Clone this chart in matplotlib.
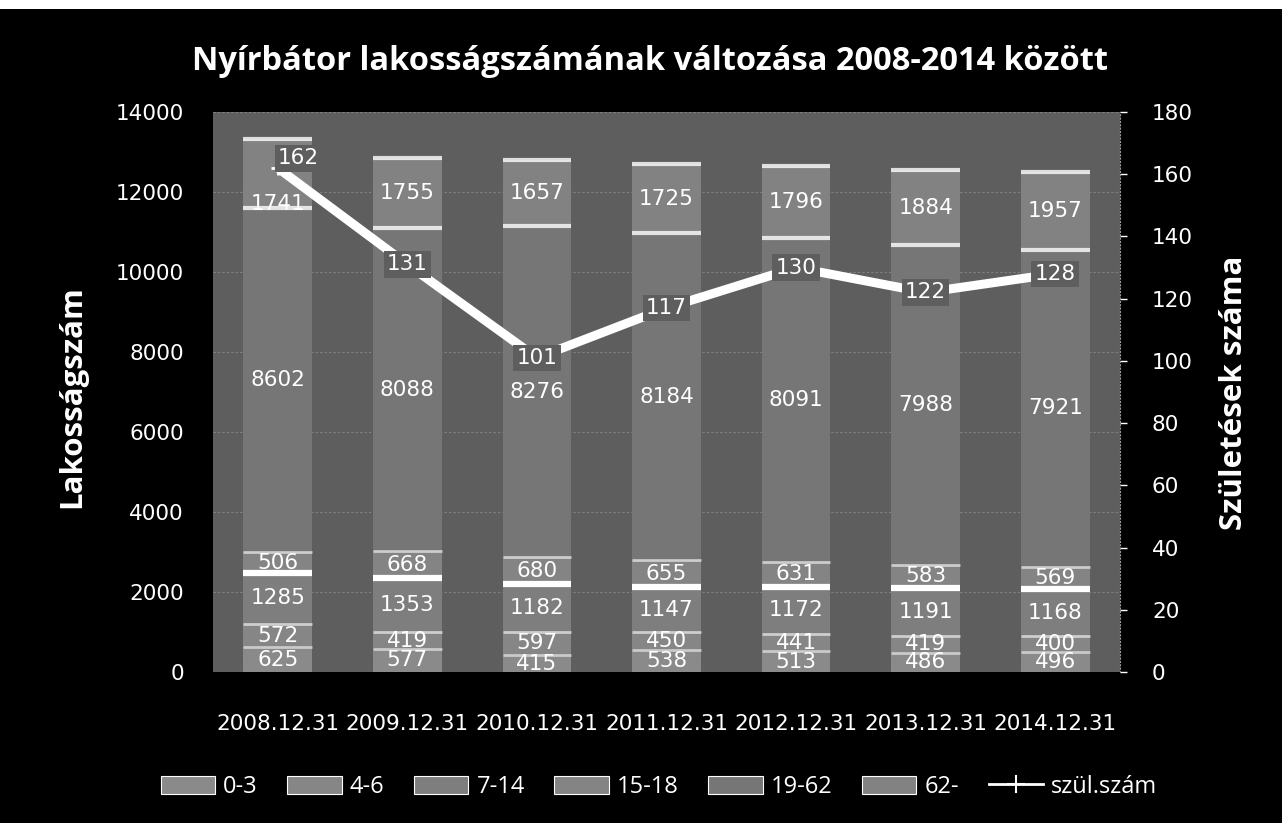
import matplotlib
matplotlib.use("Agg")
import matplotlib.pyplot as plt
from matplotlib.patches import Patch, Rectangle
from matplotlib.lines import Line2D
import numpy as np

# ---- data ----
categories = ["2008.12.31", "2009.12.31", "2010.12.31", "2011.12.31",
              "2012.12.31", "2013.12.31", "2014.12.31"]
age_0_3 = [625, 577, 415, 538, 513, 486, 496]
age_4_6 = [572, 419, 597, 450, 441, 419, 400]
age_7_14 = [1285, 1353, 1182, 1147, 1172, 1191, 1168]
age_15_18 = [506, 668, 680, 655, 631, 583, 569]
age_19_62 = [8602, 8088, 8276, 8184, 8091, 7988, 7921]
age_62 = [1741, 1755, 1657, 1725, 1796, 1884, 1957]
births = [162, 131, 101, 117, 130, 122, 128]
series_names = ["0-3", "4-6", "7-14", "15-18", "19-62", "62-"]
line_name = "szül.szám"
title = "Nyírbátor lakosságszámának változása 2008-2014 között"
left_label = "Lakosságszám"
right_label = "Születések száma"

# ---- style ----
BG = "#000000"
PLOT_BG = "#5e5e5e"
seg_colors = ["#8a8a8a", "#868686", "#7e7e7e", "#848484", "#767676", "#828282"]
top_lw = [2.0, 2.0, 4.5, 2.0, 3.0, 3.0]
top_alpha = [0.55, 0.6, 1.0, 0.6, 0.8, 0.8]
NUM_FONT = ["DejaVu Sans"]
TXT_FONT = ["Open Sans", "DejaVu Sans"]
# label nudges in points (first bar: birth label up/right, top segment label down)
birth_label_offsets = [(15, 7), (0, 0), (0, 0), (0, 0), (0, 0), (0, 0), (0, 0)]
top_label_offsets = [(0, -22), (0, 0), (0, 0), (0, 0), (0, 0), (0, 0), (0, 0)]

fig = plt.figure(figsize=(12.82, 8.23), dpi=100, facecolor=BG)
ax = fig.add_axes([213/1282, 1-672/823, (1120-213)/1282, (672-112)/823])
ax.set_facecolor(PLOT_BG)
ax2 = ax.twinx()

x = np.arange(len(categories))
w = 0.53
series = [age_0_3, age_4_6, age_7_14, age_15_18, age_19_62, age_62]
bottom = np.zeros(len(categories))
handles = []
n_series = len(series)
for si, (vals, name, col, lw, al) in enumerate(zip(series, series_names, seg_colors, top_lw, top_alpha)):
    vals = np.array(vals, dtype=float)
    ax.bar(x, vals, w, bottom=bottom, color=col, edgecolor="none", zorder=2)
    tops = bottom + vals
    ax.hlines(tops, x - w/2, x + w/2, colors="white", lw=lw, alpha=al, zorder=3)
    for j, (xi, b, v) in enumerate(zip(x, bottom, vals)):
        off = top_label_offsets[j] if si == n_series - 1 else (0, 0)
        ax.annotate(f"{int(v)}", (xi, b + v/2), xytext=off, textcoords="offset points",
                    ha="center", va="center", color="white", fontsize=15.5,
                    family=NUM_FONT, zorder=4)
    handles.append(Patch(facecolor=col, edgecolor="white", linewidth=0.8, label=name))
    bottom = tops

ax.set_xlim(-0.5, len(categories) - 0.5)
ax.set_ylim(0, 14000)
ax.set_yticks(np.arange(0, 14001, 2000))
ax.yaxis.grid(True, color="#9a9a9a", lw=0.8, ls=(0, (2, 2)), alpha=0.6, zorder=0)
ax.set_axisbelow(True)
ax.set_xticks(x)
ax.set_xticklabels(categories)
ax.tick_params(axis="x", length=0, pad=30, colors="white", labelsize=15.5)
ax.tick_params(axis="y", length=0, pad=21, colors="white", labelsize=15.5)
for lab in ax.get_xticklabels() + ax.get_yticklabels():
    lab.set_family(NUM_FONT)
for s in ax.spines.values():
    s.set_visible(False)

# births line
ax2.plot(x, births, color="white", lw=6.5, marker="+", ms=10, mew=2,
         solid_capstyle="butt", zorder=5)
for xi, b, off in zip(x, births, birth_label_offsets):
    ax2.annotate(f"{b}", (xi, b), xytext=off, textcoords="offset points",
                 ha="center", va="center", color="white",
                 fontsize=15.5, family=NUM_FONT, zorder=6,
                 bbox=dict(boxstyle="square,pad=0.15", facecolor=PLOT_BG, edgecolor="none"))
ax2.set_ylim(0, 180)
ax2.set_yticks(np.arange(0, 181, 20))
ax2.tick_params(axis="y", length=5, width=1, pad=18, colors="white", labelsize=15.5)
for lab in ax2.get_yticklabels():
    lab.set_family(NUM_FONT)
for s in ax2.spines.values():
    s.set_visible(False)
ax2.spines["right"].set_visible(True)
ax2.spines["right"].set_color("#9a9a9a")
ax2.spines["right"].set_linestyle((0, (1, 2)))

# titles / labels
fig.text(650/1282, 1-62/823, title, ha="center", va="center", color="white",
         fontsize=23.5, fontweight="bold", family=TXT_FONT)
fig.text(72/1282, 1-397/823, left_label, ha="center", va="center", rotation=90,
         color="white", fontsize=22.5, fontweight="bold", family=TXT_FONT)
fig.text(1234/1282, 1-393/823, right_label, ha="center", va="center", rotation=90,
         color="white", fontsize=22.5, fontweight="bold", family=TXT_FONT)

handles.append(Line2D([0], [0], color="white", lw=2, marker="+", ms=13, mew=1.5,
                      label=line_name))
leg = fig.legend(handles=handles, loc="center", bbox_to_anchor=(659/1282, 1-787/823),
                 ncol=7, frameon=False, handlelength=2.3,
                 handleheight=0.8, handletextpad=0.35, columnspacing=1.25,
                 prop={"family": TXT_FONT, "size": 17})
for t in leg.get_texts():
    t.set_color("white")

# white scan strip at top
fig.add_artist(Rectangle((0, 1-9/823), 1, 9/823, transform=fig.transFigure,
                         facecolor="white", edgecolor="none"))

fig.savefig("out.png", dpi=100, facecolor=BG)
